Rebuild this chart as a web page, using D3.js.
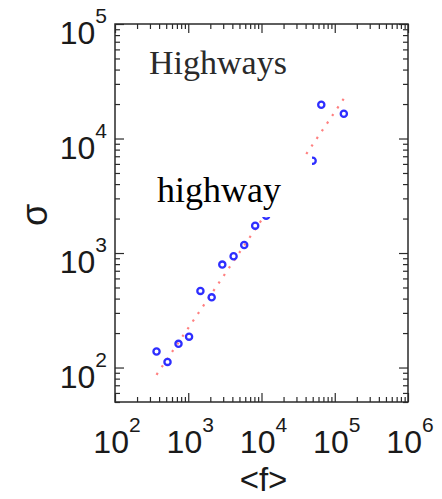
<!DOCTYPE html>
<html>
<head>
<meta charset="utf-8">
<script src="https://cdn.jsdelivr.net/npm/d3@7"></script>
<style>
  html, body { margin: 0; padding: 0; background: #fff; }
  svg { display: block; }
</style>
</head>
<body>
<script>
// Mean traffic <f> versus its fluctuation sigma, highway stations (log-log)
const freq  = [369, 521, 736, 1026, 1466, 2089, 2916, 4160, 5808, 8200, 11590, 49900, 65500, 133000];
const sigma = [138, 112, 161, 186, 467, 410, 792, 936, 1175, 1733, 2120, 6400, 19720, 16440];

// power-law fit, drawn between its two end points
const fitFreq  = [369, 134600];
const fitSigma = [86.4, 22540];

const xDomain = [1e2, 1e6];
const yDomain = [50, 1e5];
const xMajor = [1e2, 1e3, 1e4, 1e5, 1e6];
const yMajor = [1e2, 1e3, 1e4, 1e5];

const W = 442, H = 499;
const plot = { left: 115, right: 408, top: 24, bottom: 402 };

const svg = d3.select("body").append("svg").attr("width", W).attr("height", H);

const x = d3.scaleLog().domain(xDomain).range([plot.left, plot.right]);
const y = d3.scaleLog().domain(yDomain).range([plot.bottom, plot.top]);

const xMinor = x.ticks().filter(v => !xMajor.includes(v));
const yMinor = y.ticks().filter(v => !yMajor.includes(v));

const axisColor = "#2a2a2a";
const majorLen = 9, minorLen = 5;

function styleAxis(g) {
  g.select(".domain").remove();
  g.selectAll(".tick line").attr("stroke", axisColor).attr("stroke-width", 1.2);
  g.selectAll(".tick text").remove();
}

// inward ticks on all four sides
[[d3.axisBottom, plot.bottom], [d3.axisTop, plot.top]].forEach(([ax, pos]) => {
  svg.append("g").attr("transform", `translate(0,${pos})`)
    .call(ax(x).tickValues(xMinor).tickSize(-minorLen).tickFormat("")).call(styleAxis);
  svg.append("g").attr("transform", `translate(0,${pos})`)
    .call(ax(x).tickValues(xMajor).tickSize(-majorLen).tickFormat("")).call(styleAxis);
});
[[d3.axisLeft, plot.left], [d3.axisRight, plot.right]].forEach(([ax, pos]) => {
  svg.append("g").attr("transform", `translate(${pos},0)`)
    .call(ax(y).tickValues(yMinor).tickSize(-minorLen).tickFormat("")).call(styleAxis);
  svg.append("g").attr("transform", `translate(${pos},0)`)
    .call(ax(y).tickValues(yMajor).tickSize(-majorLen).tickFormat("")).call(styleAxis);
});

// frame
svg.append("rect")
  .attr("x", plot.left).attr("y", plot.top)
  .attr("width", plot.right - plot.left).attr("height", plot.bottom - plot.top)
  .attr("fill", "none").attr("stroke", axisColor).attr("stroke-width", 1.5);

// tick labels as 10 with a superscript exponent
const labelFont = "'Liberation Sans', Arial, Helvetica, sans-serif";
function powerLabel(sel, v) {
  sel.append("tspan").text("10");
  sel.append("tspan").attr("dy", -21).attr("font-size", 21).text(Math.round(Math.log10(v)));
}
xMajor.forEach(v => {
  svg.append("text")
    .attr("x", x(v) + 2).attr("y", 453)
    .attr("text-anchor", "middle")
    .attr("font-family", labelFont).attr("font-size", 32).attr("fill", "#1a1a1a")
    .call(powerLabel, v);
});
yMajor.forEach(v => {
  svg.append("text")
    .attr("x", plot.left - 8).attr("y", y(v) + 20)
    .attr("text-anchor", "end")
    .attr("font-family", labelFont).attr("font-size", 32).attr("fill", "#1a1a1a")
    .call(powerLabel, v);
});

// axis titles
svg.append("text")
  .attr("x", (plot.left + plot.right) / 2 + 2).attr("y", 491)
  .attr("text-anchor", "middle")
  .attr("font-family", labelFont).attr("font-size", 33).attr("fill", "#1a1a1a")
  .text("<f>");
svg.append("text")
  .attr("transform", `translate(47,${(plot.top + plot.bottom) / 2 + 2}) rotate(-90)`)
  .attr("text-anchor", "middle")
  .attr("font-family", labelFont).attr("font-size", 36).attr("fill", "#1a1a1a")
  .text("σ");

// panel title
svg.append("text")
  .attr("x", 149).attr("y", 74)
  .attr("font-family", "'Liberation Serif', 'Times New Roman', serif")
  .attr("font-size", 34).attr("fill", "#2a2a2a")
  .text("Highways");

// fitted power law, dotted
svg.append("path")
  .datum(d3.zip(fitFreq, fitSigma))
  .attr("d", d3.line().x(d => x(d[0])).y(d => y(d[1])))
  .attr("fill", "none")
  .attr("stroke", "#ff4a4a").attr("stroke-opacity", 0.7)
  .attr("stroke-width", 2.2)
  .attr("stroke-dasharray", "2.2 7");

// measured points
svg.append("g").selectAll("circle")
  .data(d3.zip(freq, sigma))
  .join("circle")
  .attr("cx", d => x(d[0])).attr("cy", d => y(d[1]))
  .attr("r", 3.1)
  .attr("fill", "none")
  .attr("stroke", "#2e2eff").attr("stroke-width", 2.3);

// label box pasted over the middle of the panel
svg.append("rect")
  .attr("x", 150).attr("y", 156).attr("width", 162).attr("height", 61)
  .attr("fill", "#fff");
svg.append("text")
  .attr("x", 157).attr("y", 202)
  .attr("font-family", "'Liberation Serif', 'Times New Roman', serif")
  .attr("font-size", 36).attr("fill", "#000")
  .text("highway");
</script>
</body>
</html>
